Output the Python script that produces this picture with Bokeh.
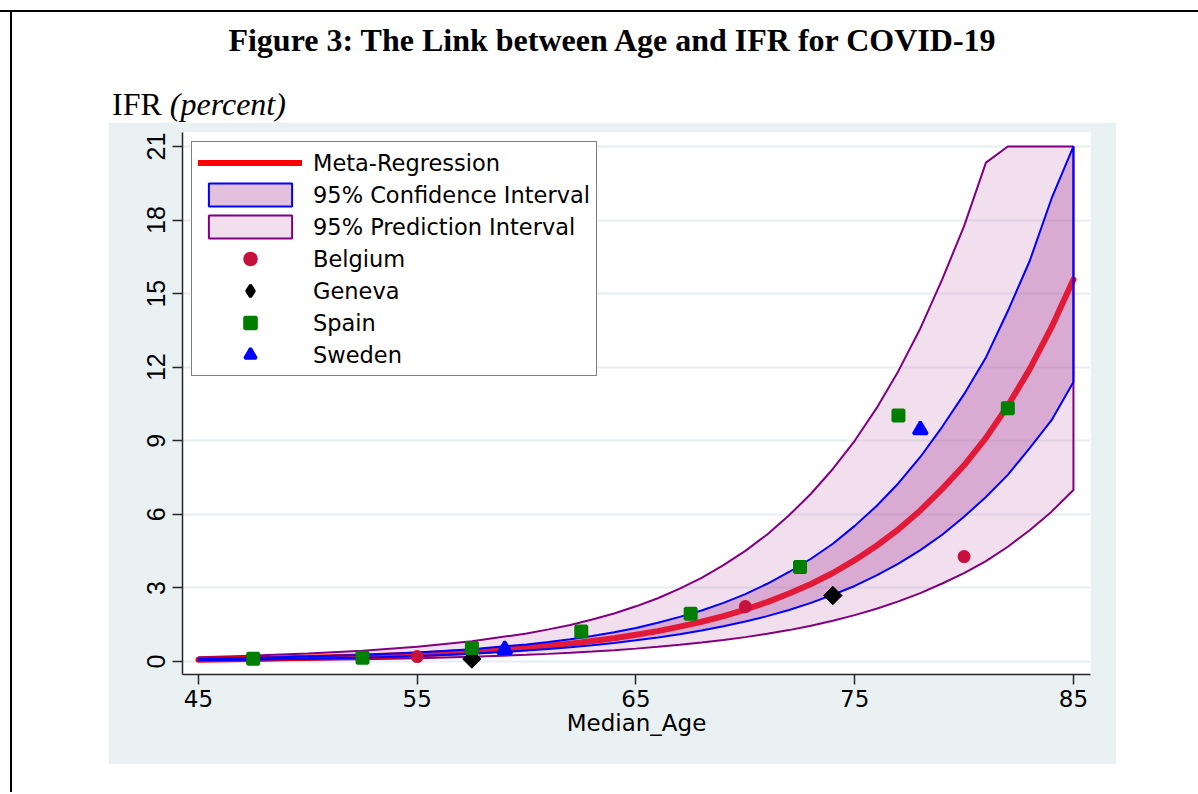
import numpy as np
from bokeh.plotting import figure
from bokeh.models import Range1d, FixedTicker, Legend, LegendItem, Div
from bokeh.layouts import column, row
from bokeh.embed import file_html
from bokeh.resources import INLINE

# ---------------- data ----------------
ages = [45, 47.5, 50, 52.5, 55, 57.5, 60, 61, 62, 63, 64, 65, 66, 67, 68, 69, 70,
        71, 72, 73, 74, 75, 76, 77, 78, 79, 80, 81, 82, 83, 84, 85]
fit = [0.076, 0.106, 0.148, 0.206, 0.287, 0.400, 0.558, 0.638, 0.729, 0.833, 0.951, 1.09, 1.24, 1.42,
       1.62, 1.85, 2.12, 2.42, 2.77, 3.16, 3.61, 4.13, 4.72, 5.39, 6.16, 7.04, 8.0, 9.12, 10.43, 11.92,
       13.63, 15.58]
ci_lo = [0.052, 0.076, 0.110, 0.157, 0.224, 0.317, 0.446, 0.510, 0.583, 0.666, 0.758, 0.863, 0.978, 1.11,
         1.26, 1.44, 1.63, 1.85, 2.10, 2.39, 2.72, 3.08, 3.51, 3.99, 4.54, 5.17, 5.9, 6.71, 7.61, 8.70,
         9.84, 11.4]
ci_hi = [0.110, 0.148, 0.200, 0.270, 0.367, 0.504, 0.698, 0.798, 0.911, 1.04, 1.19, 1.37, 1.58, 1.82,
         2.08, 2.39, 2.75, 3.17, 3.65, 4.19, 4.80, 5.53, 6.34, 7.27, 8.34, 9.57, 10.9, 12.40, 14.29, 16.33,
         18.88, 21.0]
pi_lo = [0.033, 0.047, 0.067, 0.096, 0.137, 0.193, 0.272, 0.311, 0.356, 0.406, 0.462, 0.525, 0.597, 0.679,
         0.771, 0.874, 0.994, 1.13, 1.28, 1.46, 1.66, 1.89, 2.15, 2.45, 2.79, 3.18, 3.6, 4.09, 4.68, 5.35,
         6.11, 6.99]
pi_hi = [0.175, 0.239, 0.326, 0.443, 0.603, 0.828, 1.14, 1.31, 1.49, 1.71, 1.96, 2.25, 2.58, 2.97,
         3.41, 3.93, 4.51, 5.18, 5.96, 6.84, 7.85, 9.0, 10.33, 11.85, 13.58, 15.58, 17.75, 20.34, 21.0, 21.0,
         21.0, 21.0]

belgium_age = [55, 70, 80]
belgium_ifr = [0.20, 2.24, 4.28]
geneva_age = [57.5, 74]
geneva_ifr = [0.10, 2.69]
spain_age = [47.5, 52.5, 57.5, 62.5, 67.5, 72.5, 77, 82]
spain_ifr = [0.11, 0.15, 0.55, 1.22, 1.95, 3.85, 10.03, 10.33]
sweden_age = [59, 78]
sweden_ifr = [0.49, 9.45]

x_ticks = [45, 55, 65, 75, 85]
y_ticks = [0, 3, 6, 9, 12, 15, 18, 21]

title_text = "Figure 3: The Link between Age and IFR for COVID-19"
ylab_main = "IFR"
ylab_unit = "(percent)"
xlab = "Median_Age"
legend_labels = ["Meta-Regression", "95% Confidence Interval", "95% Prediction Interval",
                 "Belgium", "Geneva", "Spain", "Sweden"]

# ---------------- styling ----------------
BG = "#EAF1F3"
SANS = "DejaVu Sans"
PAGE_W = 1198

# ---------------- main chart ----------------
p = figure(width=1008, height=642,
           x_range=Range1d(44.27, 85.78), y_range=Range1d(-0.53, 21.57),
           output_backend="svg", toolbar_location=None,
           min_border_left=74, min_border_right=26, min_border_top=10, min_border_bottom=90,
           background_fill_color="white", border_fill_color=BG)
p.outline_line_color = None

pi_r = p.patch(ages + ages[::-1], pi_hi + pi_lo[::-1],
               fill_color="#C060A8", fill_alpha=0.2, line_color="#800080", line_width=2)
fit_r = p.line(ages, fit, line_color="#FF0000", line_width=6, line_cap="round", line_join="round")
ci_r = p.patch(ages + ages[::-1], ci_hi + ci_lo[::-1],
               fill_color="#B04A9E", fill_alpha=0.35, line_color="#0000FF", line_width=2)

bel_r = p.scatter(belgium_age, belgium_ifr, marker="circle", size=10, line_width=3,
                  fill_color="#C8103C", line_color="#C8103C")
# diamond drawn underneath the rotated squares: used for the legend swatch
gen_leg = p.scatter(geneva_age, geneva_ifr, marker="diamond", size=13, line_width=3,
                    fill_color="black", line_color="black")
gen_r = p.scatter(geneva_age, geneva_ifr, marker="square", angle=np.pi / 4, size=13,
                  fill_color="black", line_color="black")
spa_r = p.scatter(spain_age, spain_ifr, marker="square", size=11, line_width=3,
                  fill_color="#007F00", line_color="#007F00")
swe_r = p.scatter(sweden_age, sweden_ifr, marker="triangle", size=14, line_width=3,
                  fill_color="#0000FF", line_color="#0000FF")

legend = Legend(items=[
    LegendItem(label=legend_labels[0], renderers=[fit_r]),
    LegendItem(label=legend_labels[1], renderers=[ci_r]),
    LegendItem(label=legend_labels[2], renderers=[pi_r]),
    LegendItem(label=legend_labels[3], renderers=[bel_r]),
    LegendItem(label=legend_labels[4], renderers=[gen_leg]),
    LegendItem(label=legend_labels[5], renderers=[spa_r]),
    LegendItem(label=legend_labels[6], renderers=[swe_r]),
], location="top_left")
legend.margin = 9
legend.padding = 6
legend.spacing = 3
legend.glyph_width = 104
legend.glyph_height = 29
legend.label_standoff = 11
legend.label_text_font = SANS
legend.label_text_font_size = "22.5px"
legend.label_text_color = "black"
legend.border_line_color = "black"
legend.border_line_width = 1.5
legend.background_fill_color = "white"
legend.background_fill_alpha = 1.0
p.add_layout(legend)

p.xaxis.ticker = FixedTicker(ticks=x_ticks)
p.yaxis.ticker = FixedTicker(ticks=y_ticks)
p.xgrid.visible = False
p.ygrid.grid_line_color = "#E6EEF1"
p.ygrid.grid_line_width = 2

for ax in (p.xaxis[0], p.yaxis[0]):
    ax.axis_line_color = "#262626"
    ax.axis_line_width = 1.5
    ax.major_tick_line_color = "#262626"
    ax.major_tick_line_width = 1.5
    ax.major_tick_out = 10
    ax.major_tick_in = 0
    ax.minor_tick_out = 0
    ax.minor_tick_in = 0
    ax.major_label_text_color = "black"

p.xaxis.major_label_text_font = SANS
p.xaxis.major_label_text_font_size = "23px"
p.xaxis.major_label_standoff = 5
p.xaxis.axis_label = xlab
p.xaxis.axis_label_text_font = SANS
p.xaxis.axis_label_text_font_size = "23px"
p.xaxis.axis_label_text_font_style = "normal"
p.xaxis.axis_label_text_color = "black"
p.xaxis.axis_label_standoff = 0

p.yaxis.major_label_text_font = "Liberation Sans"
p.yaxis.major_label_text_font_size = "25px"
p.yaxis.major_label_orientation = "vertical"
p.yaxis.major_label_standoff = 7

# ---------------- surrounding page (title, frame lines) ----------------
serif = "font-family:'Liberation Serif',serif;font-size:32px;line-height:32px;white-space:nowrap;color:#000;"
top_html = (
    f'<div style="position:relative;width:{PAGE_W}px;height:122px;">'
    f'<div style="position:absolute;left:0;top:10px;width:{PAGE_W}px;height:2px;background:#000;"></div>'
    '<div style="position:absolute;left:10px;top:10px;width:2px;height:112px;background:#000;"></div>'
    f'<span style="position:absolute;left:612px;top:24px;transform:translateX(-50%);font-weight:bold;{serif}">'
    f'{title_text}</span>'
    f'<span style="position:absolute;left:112px;top:88px;{serif}">{ylab_main} <i>{ylab_unit}</i></span>'
    '</div>'
)
top_div = Div(text=top_html, width=PAGE_W, height=122, margin=0)

left_div = Div(text='<div style="position:relative;width:108px;height:642px;">'
                    '<div style="position:absolute;left:10px;top:0;width:2px;height:642px;background:#000;"></div>'
                    '</div>', width=108, height=642, margin=0)

bottom_div = Div(text='<div style="position:relative;width:108px;height:28px;">'
                      '<div style="position:absolute;left:10px;top:0;width:2px;height:28px;background:#000;"></div>'
                      '</div>', width=PAGE_W, height=28, margin=0)

layout = column(top_div, row(left_div, p), bottom_div)

open("out.html", "w").write(file_html(layout, INLINE))
